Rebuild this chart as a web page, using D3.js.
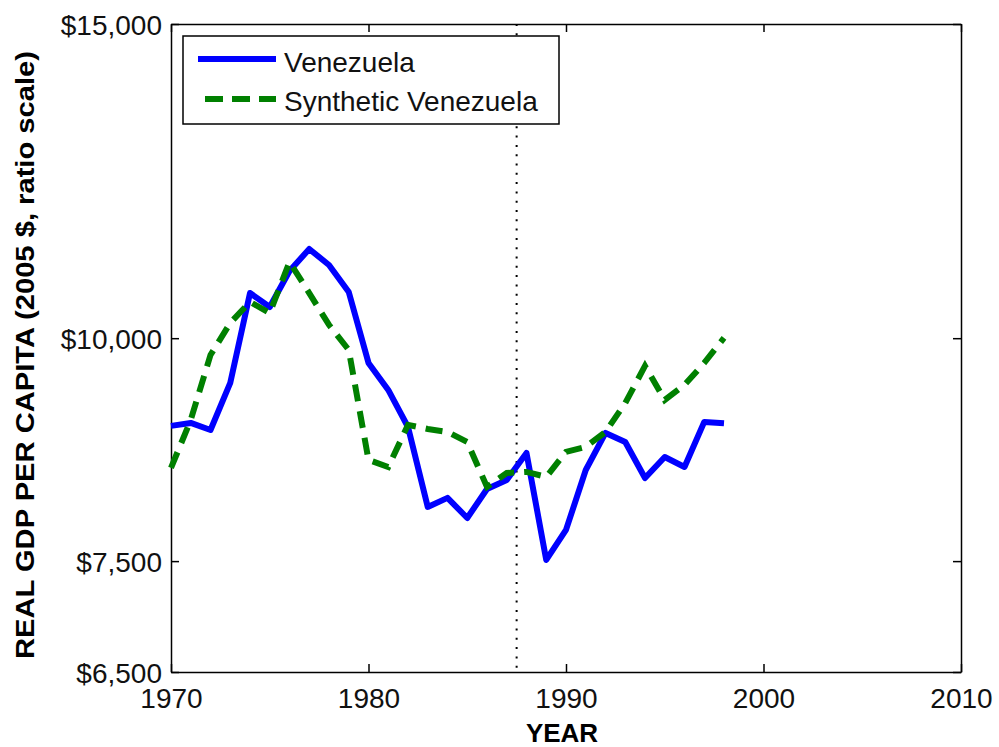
<!DOCTYPE html>
<html>
<head>
<meta charset="utf-8">
<script src="https://cdn.jsdelivr.net/npm/d3@7"></script>
<style>
  html, body { margin: 0; padding: 0; background: #fff; }
  svg { display: block; }
</style>
</head>
<body>
<svg id="chart" width="999" height="747"></svg>
<script>
const years = [1970,1971,1972,1973,1974,1975,1976,1977,1978,1979,1980,1981,1982,1983,1984,1985,1986,1987,1988,1989,1990,1991,1992,1993,1994,1995,1996,1997,1998];
const venezuela = [8930,8964,8883,9439,10600,10410,10906,11220,10990,10615,9686,9354,8917,8043,8138,7929,8232,8328,8623,7511,7808,8436,8849,8746,8349,8578,8469,8976,8960];
const synthetic = [8458,8999,9786,10199,10479,10331,11034,10600,10173,9849,8546,8469,8941,8895,8860,8746,8253,8403,8415,8361,8636,8692,8860,9198,9648,9234,9414,9686,10004];
const xTicks = [1970,1980,1990,2000,2010];
const yTicks = [6500,7500,10000,15000];
const yTickLabels = ["$6,500","$7,500","$10,000","$15,000"];
const treatmentYear = 1987.5;
const seriesNames = ["Venezuela","Synthetic Venezuela"];

const svg = d3.select("#chart");
const L = 171, R = 961, T = 24, B = 672;
const x = d3.scaleLinear().domain([1970, 2010]).range([L, R]);
const y = d3.scaleLog().domain([6500, 15000]).range([B, T]);
const font = "'Liberation Sans', Arial, Helvetica, sans-serif";

// axes
const gB = svg.append("g").attr("transform", `translate(0,${B})`)
  .call(d3.axisBottom(x).tickValues(xTicks).tickFormat(d3.format("d")).tickSizeInner(-8).tickSizeOuter(0).tickPadding(0));
const gT = svg.append("g").attr("transform", `translate(0,${T})`)
  .call(d3.axisTop(x).tickValues(xTicks).tickFormat("").tickSizeInner(-8).tickSizeOuter(0));
const gL = svg.append("g").attr("transform", `translate(${L},0)`)
  .call(d3.axisLeft(y).tickValues(yTicks).tickFormat((d,i)=>yTickLabels[i]).tickSizeInner(-8).tickSizeOuter(0).tickPadding(0));
const gR = svg.append("g").attr("transform", `translate(${R},0)`)
  .call(d3.axisRight(y).tickValues(yTicks).tickFormat("").tickSizeInner(-8).tickSizeOuter(0));

[gB,gT,gL,gR].forEach(g => {
  g.select(".domain").attr("stroke", "#000").attr("stroke-width", 1.5);
  g.selectAll(".tick line").attr("stroke", "#000").attr("stroke-width", 1.5);
});
gB.selectAll(".tick text").attr("font-family", font).attr("font-size", 28).attr("fill", "#111")
  .attr("y", 36).attr("dy", null);
gL.selectAll(".tick text").attr("font-family", font).attr("font-size", 28).attr("fill", "#111")
  .attr("x", -9).attr("dy", "10").attr("text-anchor", "end");

// treatment line
svg.append("line")
  .attr("x1", x(treatmentYear)).attr("x2", x(treatmentYear))
  .attr("y1", T).attr("y2", B)
  .attr("stroke", "#000").attr("stroke-width", 2).attr("stroke-dasharray", "2,7.3");

// series
const line = d3.line().x((d,i)=>x(years[i])).y(d=>y(d));
svg.append("path").datum(venezuela).attr("d", line)
  .attr("fill", "none").attr("stroke", "#0000ff").attr("stroke-width", 6).attr("stroke-linejoin", "round");
svg.append("path").datum(synthetic).attr("d", line)
  .attr("fill", "none").attr("stroke", "#008000").attr("stroke-width", 6).attr("stroke-dasharray", "17,10");

// legend
const lg = svg.append("g");
lg.append("rect").attr("x", 183).attr("y", 36).attr("width", 376).attr("height", 88)
  .attr("fill", "#fff").attr("stroke", "#000").attr("stroke-width", 1.5);
lg.append("line").attr("x1", 198).attr("x2", 276).attr("y1", 59).attr("y2", 59)
  .attr("stroke", "#0000ff").attr("stroke-width", 6);
lg.append("line").attr("x1", 205).attr("x2", 276).attr("y1", 99).attr("y2", 99)
  .attr("stroke", "#008000").attr("stroke-width", 6).attr("stroke-dasharray", "18,9");
lg.selectAll("text.lt").data(seriesNames).enter().append("text")
  .attr("x", 284).attr("y", (d,i)=> i===0 ? 72 : 111)
  .attr("font-family", font).attr("font-size", 28).attr("fill", "#111").text(d=>d);

// axis titles
svg.append("text").attr("x", 562).attr("y", 742).attr("text-anchor", "middle")
  .attr("font-family", font).attr("font-size", 26).attr("font-weight", "bold").text("YEAR");
svg.append("text").attr("transform", "translate(34,355) rotate(-90)").attr("text-anchor", "middle")
  .attr("font-family", font).attr("font-size", 25).attr("font-weight", "bold")
  .attr("textLength", 608).attr("lengthAdjust", "spacingAndGlyphs")
  .text("REAL GDP PER CAPITA (2005 $, ratio scale)");
</script>
</body>
</html>
